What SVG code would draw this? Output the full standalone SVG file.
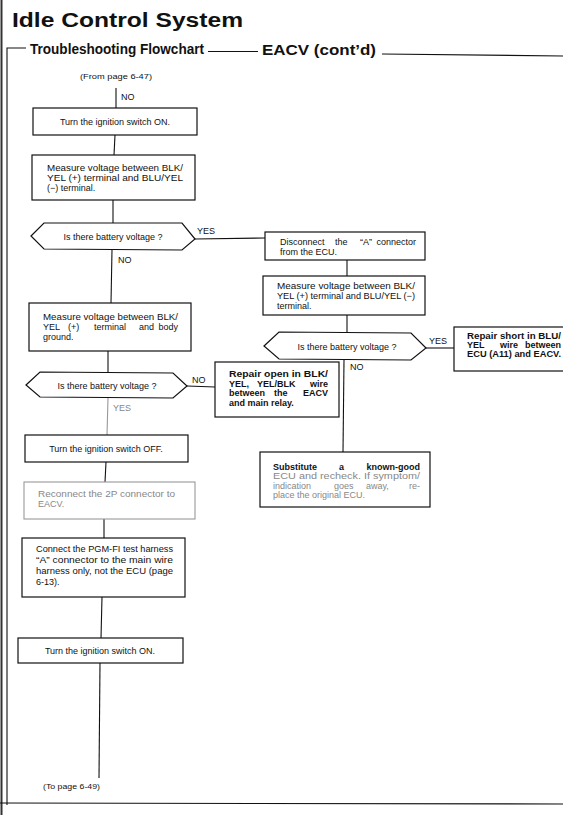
<svg xmlns="http://www.w3.org/2000/svg" width="563" height="815" viewBox="0 0 563 815">
<style>
.bg{fill:#fff}
.box{fill:#fff;stroke:#111;stroke-width:1.2}
.gbox{fill:#fff;stroke:#999;stroke-width:1.1}
.ln{stroke:#111;stroke-width:1.1;fill:none}
.gln{stroke:#999;stroke-width:1.1;fill:none}
.t{font-family:"Liberation Sans",Arial,sans-serif;font-size:9px;fill:#111}
.tb{font-family:"Liberation Sans",Arial,sans-serif;font-size:9px;fill:#111;font-weight:bold}
.g{fill:#888}
.c{text-anchor:middle}
.e{text-anchor:end}
.h1{font-family:"Liberation Sans",Arial,sans-serif;font-size:20px;font-weight:bold;fill:#111}
.h2{font-family:"Liberation Sans",Arial,sans-serif;font-size:14px;font-weight:bold;fill:#111}
.sm{font-family:"Liberation Sans",Arial,sans-serif;font-size:7.5px;fill:#111}
</style>
<rect class="bg" x="0" y="0" width="563" height="815"/>
<g id="frame">
<line x1="1.5" y1="0" x2="1.5" y2="815" stroke="#333" stroke-width="2"/>
<text class="h1" x="12" y="27" textLength="231" lengthAdjust="spacingAndGlyphs">Idle Control System</text>
<polyline class="ln" points="26,48 7,48 7,805" stroke-width="1.6"/>
<text class="h2" x="30" y="54" textLength="174" lengthAdjust="spacingAndGlyphs">Troubleshooting Flowchart</text>
<line class="ln" x1="208" y1="51.5" x2="258" y2="51.5" stroke-width="1.4"/>
<text class="h2" x="262" y="55" textLength="114" lengthAdjust="spacingAndGlyphs">EACV (cont’d)</text>
<line class="ln" x1="382" y1="54" x2="563" y2="56" stroke-width="1.4"/>
<line class="ln" x1="0" y1="803" x2="563" y2="804" stroke-width="1.6"/>
<text class="sm" x="80" y="79" textLength="72" lengthAdjust="spacingAndGlyphs">(From page 6-47)</text>
<text class="sm" x="43" y="789" textLength="57" lengthAdjust="spacingAndGlyphs">(To page 6-49)</text>
</g>
<g id="connectors">
<line class="ln" x1="116" y1="88" x2="116" y2="108"/>
<line class="ln" x1="115" y1="135" x2="114" y2="155"/>
<line class="ln" x1="113" y1="200" x2="113" y2="223"/>
<line class="ln" x1="195" y1="239" x2="265" y2="238"/>
<line class="ln" x1="112" y1="250" x2="111" y2="303"/>
<line class="ln" x1="108" y1="351" x2="108" y2="372"/>
<line class="ln" x1="187" y1="386" x2="215" y2="387"/>
<line class="gln" x1="108" y1="398" x2="107" y2="435"/>
<line class="ln" x1="106" y1="462" x2="105" y2="482"/>
<line class="ln" x1="104" y1="519" x2="104" y2="538"/>
<line class="ln" x1="102" y1="597" x2="101" y2="638"/>
<line class="ln" x1="100" y1="663" x2="99" y2="778"/>
<line class="ln" x1="347" y1="260" x2="347" y2="276"/>
<line class="ln" x1="347" y1="315" x2="347" y2="332"/>
<line class="ln" x1="426" y1="348" x2="454" y2="348"/>
<line class="ln" x1="344" y1="360" x2="343" y2="452"/>
<text class="t" x="121" y="100">NO</text>
<text class="t" x="197" y="234">YES</text>
<text class="t" x="118" y="263">NO</text>
<text class="t" x="192" y="383">NO</text>
<text class="t g" x="113" y="411">YES</text>
<text class="t" x="429" y="344">YES</text>
<text class="t" x="350" y="370">NO</text>
</g>
<g id="n1">
<rect class="box" x="33" y="108" width="164" height="27"/>
<text class="t c" x="115" y="125">Turn the ignition switch ON.</text>
</g>
<g id="n2">
<rect class="box" x="32" y="155" width="163" height="45"/>
<text class="t" x="47" y="171" textLength="136" lengthAdjust="spacingAndGlyphs">Measure voltage between BLK/</text>
<text class="t" x="47" y="181" textLength="136" lengthAdjust="spacingAndGlyphs">YEL (+) terminal and BLU/YEL</text>
<text class="t" x="47" y="191">(−) terminal.</text>
</g>
<g id="d1">
<polygon class="box" points="31,236 44,223 182,223 195,239 182,250 44,249"/>
<text class="t c" x="113" y="240">Is there battery voltage ?</text>
</g>
<g id="n3">
<rect class="box" x="29" y="303" width="162" height="48"/>
<text class="t" x="43" y="320" textLength="135" lengthAdjust="spacingAndGlyphs">Measure voltage between BLK/</text>
<text class="t" x="43" y="330">YEL</text><text class="t" x="68" y="330">(+)</text><text class="t" x="94" y="330">terminal</text><text class="t" x="139" y="330">and</text><text class="t e" x="178" y="330">body</text>
<text class="t" x="43" y="340">ground.</text>
</g>
<g id="d2">
<polygon class="box" points="26,385 40,372 173,373 187,386 173,398 40,397"/>
<text class="t c" x="107" y="389">Is there battery voltage ?</text>
</g>
<g id="n4">
<rect class="box" x="25" y="435" width="163" height="27"/>
<text class="t c" x="106" y="452">Turn the ignition switch OFF.</text>
</g>
<g id="n5">
<rect class="gbox" x="24" y="482" width="171" height="37"/>
<text class="t g" x="38" y="497" textLength="137" lengthAdjust="spacingAndGlyphs">Reconnect the 2P connector to</text>
<text class="t g" x="38" y="507">EACV.</text>
</g>
<g id="n6">
<rect class="box" x="22" y="538" width="163" height="59"/>
<text class="t" x="36" y="552" textLength="137" lengthAdjust="spacingAndGlyphs">Connect the PGM-FI test harness</text>
<text class="t" x="36" y="563" textLength="137" lengthAdjust="spacingAndGlyphs">“A” connector to the main wire</text>
<text class="t" x="36" y="574" textLength="137" lengthAdjust="spacingAndGlyphs">harness only, not the ECU (page</text>
<text class="t" x="36" y="585">6-13).</text>
</g>
<g id="n7">
<rect class="box" x="18" y="638" width="165" height="25"/>
<text class="t c" x="100" y="654">Turn the ignition switch ON.</text>
</g>
<g id="n8">
<rect class="box" x="265" y="232" width="160" height="28"/>
<text class="t" x="280" y="245">Disconnect</text><text class="t" x="335" y="245">the</text><text class="t" x="360" y="245">“A”</text><text class="t e" x="416" y="245">connector</text>
<text class="t" x="280" y="255">from the ECU.</text>
</g>
<g id="n9">
<rect class="box" x="263" y="276" width="162" height="39"/>
<text class="t" x="277" y="289" textLength="138" lengthAdjust="spacingAndGlyphs">Measure voltage between BLK/</text>
<text class="t" x="277" y="299" textLength="138" lengthAdjust="spacingAndGlyphs">YEL (+) terminal and BLU/YEL (−)</text>
<text class="t" x="277" y="309">terminal.</text>
</g>
<g id="d3">
<polygon class="box" points="264,346 279,332 411,333 426,348 411,360 279,359"/>
<text class="t c" x="347" y="350">Is there battery voltage ?</text>
</g>
<g id="n10">
<rect class="box" x="454" y="327" width="120" height="44"/>
<text class="tb" x="467" y="339" textLength="94" lengthAdjust="spacingAndGlyphs">Repair short in BLU/</text>
<text class="tb" x="467" y="348">YEL</text><text class="tb" x="500" y="348">wire</text><text class="tb e" x="561" y="348">between</text>
<text class="tb" x="467" y="357" textLength="94" lengthAdjust="spacingAndGlyphs">ECU (A11) and EACV.</text>
</g>
<g id="n11">
<rect class="box" x="215" y="362" width="124" height="55"/>
<text class="tb" x="229" y="377" textLength="99" lengthAdjust="spacingAndGlyphs">Repair open in BLK/</text>
<text class="tb" x="229" y="387">YEL,</text><text class="tb" x="257" y="387">YEL/BLK</text><text class="tb e" x="328" y="387">wire</text>
<text class="tb" x="229" y="396">between</text><text class="tb" x="274" y="396">the</text><text class="tb e" x="328" y="396">EACV</text>
<text class="tb" x="229" y="406">and main relay.</text>
</g>
<g id="n12">
<rect class="box" x="260" y="452" width="170" height="55"/>
<text class="tb" x="273" y="470">Substitute</text><text class="tb" x="339" y="470">a</text><text class="tb e" x="420" y="470">known-good</text>
<text class="t g" x="273" y="479" textLength="147" lengthAdjust="spacingAndGlyphs">ECU and recheck. If symptom/</text>
<text class="t g" x="273" y="489">indication</text><text class="t g" x="334" y="489">goes</text><text class="t g" x="366" y="489">away,</text><text class="t g e" x="420" y="489">re-</text>
<text class="t g" x="273" y="498">place the original ECU.</text>
</g>
</svg>
